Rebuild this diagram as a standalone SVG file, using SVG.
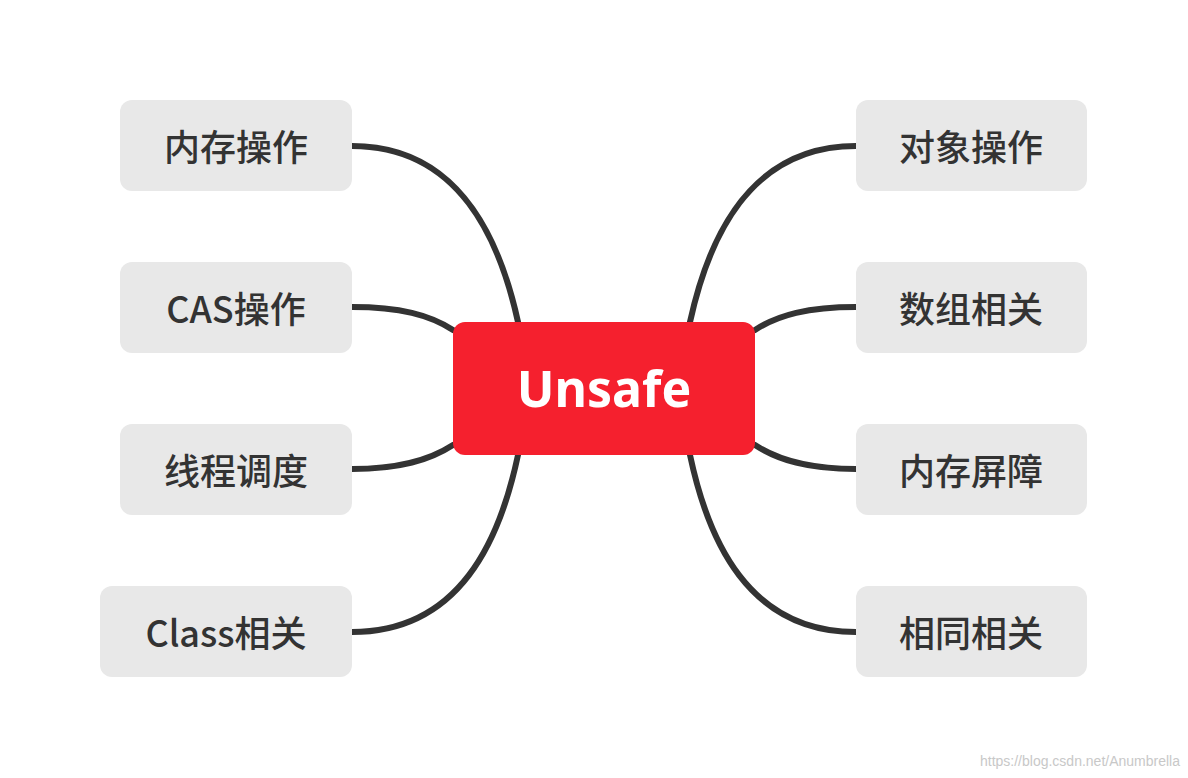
<svg xmlns="http://www.w3.org/2000/svg" width="1188" height="778" viewBox="0 0 1188 778">
<style>
.b{fill:#e8e8e8}
.t{font-family:"Noto Sans CJK SC","Noto Sans",sans-serif;font-size:36px;font-weight:500;fill:#333;text-anchor:middle;dominant-baseline:central}
.c{fill:none;stroke:#333;stroke-width:6;stroke-linecap:round}
</style>
<rect width="1188" height="778" fill="#fff"/>
<g id="connectors">
<path class="c" d="M352,146 C460,146 500,240 518,322"/>
<path class="c" d="M352,307 C400,307 430,315 453,330"/>
<path class="c" d="M352,469 C400,469 430,460 453,445"/>
<path class="c" d="M352,632 C460,632 500,540 518,455"/>
<path class="c" d="M856,146 C748,146 708,240 690,322"/>
<path class="c" d="M856,307 C808,307 778,315 755,330"/>
<path class="c" d="M856,469 C808,469 778,460 755,445"/>
<path class="c" d="M856,632 C748,632 708,540 690,455"/>
</g>
<g id="center"><rect x="453" y="322" width="302" height="133" rx="12" fill="#f5202e"/><text x="604" y="388" font-family="Noto Sans,sans-serif" font-size="50" font-weight="bold" fill="#fff" text-anchor="middle" dominant-baseline="central">Unsafe</text></g>
<g id="n1"><rect class="b" x="120" y="100" width="232" height="91" rx="12"/><text class="t" x="236" y="145">内存操作</text></g>
<g id="n2"><rect class="b" x="120" y="262" width="232" height="91" rx="12"/><text class="t" x="236" y="307">CAS操作</text></g>
<g id="n3"><rect class="b" x="120" y="424" width="232" height="91" rx="12"/><text class="t" x="236" y="469">线程调度</text></g>
<g id="n4"><rect class="b" x="100" y="586" width="252" height="91" rx="12"/><text class="t" x="226" y="631">Class相关</text></g>
<g id="n5"><rect class="b" x="856" y="100" width="231" height="91" rx="12"/><text class="t" x="971" y="145">对象操作</text></g>
<g id="n6"><rect class="b" x="856" y="262" width="231" height="91" rx="12"/><text class="t" x="971" y="307">数组相关</text></g>
<g id="n7"><rect class="b" x="856" y="424" width="231" height="91" rx="12"/><text class="t" x="971" y="469">内存屏障</text></g>
<g id="n8"><rect class="b" x="856" y="586" width="231" height="91" rx="12"/><text class="t" x="971" y="631">相同相关</text></g>
<text x="1180" y="766" font-family="Liberation Sans,sans-serif" font-size="14" fill="#c8c8c8" text-anchor="end">https://blog.csdn.net/Anumbrella</text>
</svg>
